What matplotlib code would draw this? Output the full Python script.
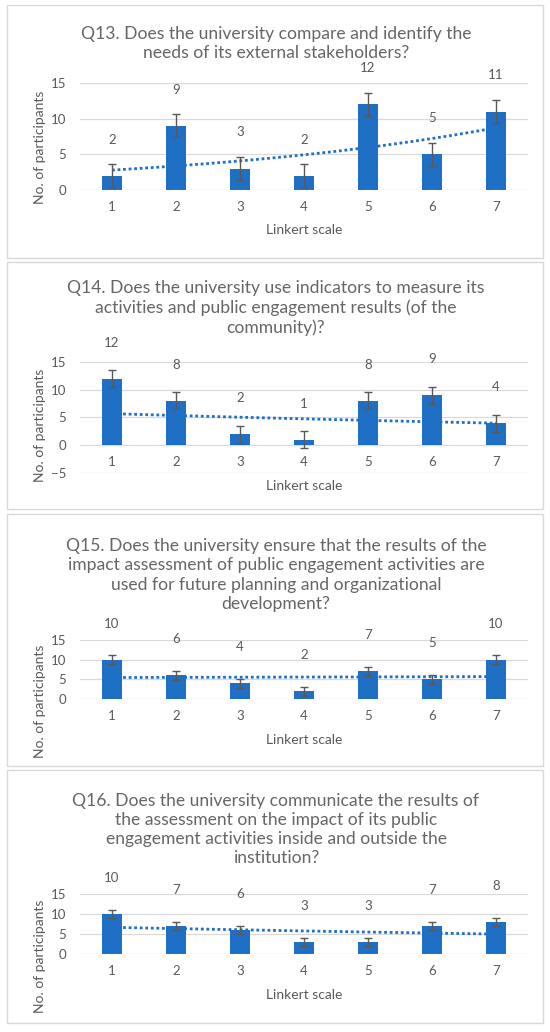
import numpy as np
import matplotlib.pyplot as plt
from matplotlib.patches import Rectangle

plt.rcParams.update({
    'font.family': ['Lato', 'DejaVu Sans'],
    'font.size': 9,
    'text.color': '#595959',
    'xtick.color': '#595959',
    'ytick.color': '#595959',
})

W, H = 550, 1032
BLUE = '#1f6fc5'
GRID = '#d9d9d9'

likert = [1, 2, 3, 4, 5, 6, 7]
q13 = [2, 9, 3, 2, 12, 5, 11]
q14 = [12, 8, 2, 1, 8, 9, 4]
q15 = [10, 6, 4, 2, 7, 5, 10]
q16 = [10, 7, 6, 3, 3, 7, 8]

titles = [
    'Q13. Does the university compare and identify the\nneeds of its external stakeholders?',
    'Q14. Does the university use indicators to measure its\nactivities and public engagement results (of the\ncommunity)?',
    'Q15. Does the university ensure that the results of the\nimpact assessment of public engagement activities are\nused for future planning and organizational\ndevelopment?',
    'Q16. Does the university communicate the results of\nthe assessment on the impact of its public\nengagement activities inside and outside the\ninstitution?',
]
ylims = [(0, 15), (-5, 15), (0, 15), (0, 15)]

# pixel layout per panel: box top/bottom, title centre, plot top/bottom, xlabel y, ylabel y
layout = [
    (5, 258, 43.5, 83, 190, 230, 147),
    (262, 509, 308, 362, 473, 486, 425),
    (514, 766, 575, 640, 699, 740, 701),
    (770, 1023, 829.5, 894, 954, 995, 956),
]


def fx(px):
    return px / W


def fy(py):
    return 1 - py / H


fig = plt.figure(figsize=(W / 100, H / 100), dpi=100)

for values, title, ylim, lay in zip([q13, q14, q15, q16], titles, ylims, layout):
    box_top, box_bot, title_y, ax_top, ax_bot, xlab_y, ylab_y = lay
    fig.patches.append(Rectangle((fx(7), fy(box_bot)), fx(536), (box_bot - box_top) / H,
                                 transform=fig.transFigure, fill=False,
                                 edgecolor=GRID, linewidth=1))
    fig.text(fx(276), fy(title_y), title, ha='center', va='center',
             fontsize=12.6, linespacing=1.25, color='#666666')

    ax = fig.add_axes([fx(80), fy(ax_bot), fx(448), (ax_bot - ax_top) / H])
    x = np.array(likert)
    y = np.array(values, dtype=float)

    # exponential trend line, as Excel draws it
    b, a = np.polyfit(x, np.log(y), 1)
    xt = np.linspace(x.min(), x.max(), 100)
    ax.plot(xt, np.exp(a + b * xt), color=BLUE, linestyle=(0, (1, 1)),
            linewidth=2, zorder=1)

    # standard error bars (same value for every bar)
    se = np.sqrt(np.sum((y - y.mean()) ** 2) / (len(y) * (len(y) - 1)))
    ax.bar(x, y, width=0.31, color=BLUE, zorder=2)
    ax.errorbar(x, y, yerr=se, fmt='none', ecolor='#595959', elinewidth=1,
                capsize=3, capthick=1, zorder=3)

    for xi, yi in zip(x, values):
        ax.annotate(str(yi), (xi, yi), xytext=(0, 26), textcoords='offset points',
                    ha='center', va='center', fontsize=9.5, color='#595959')

    ax.set_xlim(0.5, 7.5)
    ax.set_ylim(*ylim)
    ax.set_yticks(range(ylim[0], ylim[1] + 1, 5))
    ax.set_xticks(x)
    ax.grid(axis='y', color=GRID, linewidth=0.9)
    ax.set_axisbelow(True)
    for s in ax.spines.values():
        s.set_visible(False)
    ax.spines['bottom'].set_position(('data', 0))
    ax.tick_params(length=0, labelsize=9.5)
    ax.tick_params(axis='y', pad=10)
    ax.tick_params(axis='x', pad=8)
    ax.patch.set_alpha(0)

    fig.text(fx(304), fy(xlab_y), 'Linkert scale', ha='center', va='center',
             fontsize=10, color='#595959')
    fig.text(fx(40), fy(ylab_y), 'No. of participants', ha='center', va='center',
             rotation=90, fontsize=10, color='#595959')

fig.savefig('out.png', dpi=100)
